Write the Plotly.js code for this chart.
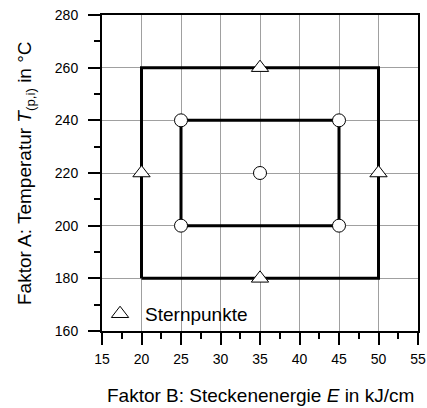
<!DOCTYPE html>
<html><head><meta charset="utf-8">
<script src="https://cdn.plot.ly/plotly-3.0.1.min.js"></script>
<style>html,body{margin:0;padding:0;background:#fff}</style>
</head><body>
<div id="chart" style="width:427px;height:408px"></div>
<script>
// Data
const outerX = [20, 50, 50, 20, 20];
const outerY = [180, 180, 260, 260, 180];
const innerX = [25, 45, 45, 25, 25];
const innerY = [200, 200, 240, 240, 200];
const circleX = [25, 45, 25, 45, 35];
const circleY = [200, 200, 240, 240, 220];
const starX = [35, 35, 20, 50];
const starY = [260, 180, 220, 220];
const xTicks = [15, 20, 25, 30, 35, 40, 45, 50, 55];
const yTicks = [160, 180, 200, 220, 240, 260, 280];
const legendLabel = "Sternpunkte";
const xTitle = "Faktor B: Steckenenergie <i>E</i> in kJ/cm";
const yTitle = "Faktor A: Temperatur <i>T</i><sub>(p,i)</sub> in °C";

const FONT = "Liberation Sans, Arial, sans-serif";

const traces = [
  {x: outerX, y: outerY, mode: "lines", line: {color: "#000", width: 3}, showlegend: false, hoverinfo: "skip"},
  {x: innerX, y: innerY, mode: "lines", line: {color: "#000", width: 3}, showlegend: false, hoverinfo: "skip"},
  {x: circleX, y: circleY, mode: "markers", showlegend: false,
   marker: {symbol: "circle", size: 13, color: "#fff", line: {color: "#000", width: 1}}},
  {x: starX, y: starY, mode: "markers", name: legendLabel, showlegend: true,
   marker: {symbol: "triangle-up", size: 15, color: "#fff", line: {color: "#000", width: 1}}}
];

const layout = {
  width: 427, height: 408,
  margin: {l: 102, r: 9, t: 15, b: 77},
  paper_bgcolor: "#fff", plot_bgcolor: "#fff",
  font: {family: FONT, size: 14, color: "#000"},
  showlegend: true,
  legend: {x: -0.022, y: -0.006, xanchor: "left", yanchor: "bottom", bgcolor: "rgba(0,0,0,0)",
           font: {family: FONT, size: 19, color: "#000"}, itemwidth: 40},
  xaxis: {
    range: [15, 55], tickvals: xTicks, ticktext: xTicks.map(String),
    ticks: "outside", ticklen: 12, tickwidth: 2, tickcolor: "#000",
    showline: true, linewidth: 2, linecolor: "#000", mirror: true,
    showgrid: true, gridcolor: "#a0a0a0", gridwidth: 1, zeroline: false,
    ticklabelstandoff: 2,
    tickfont: {family: FONT, size: 14, color: "#000"},
    minor: {dtick: 2.5, tick0: 15, ticks: "outside", ticklen: 6, tickwidth: 2, tickcolor: "#000", showgrid: false}
  },
  yaxis: {
    range: [160, 280], tickvals: yTicks, ticktext: yTicks.map(String),
    ticks: "outside", ticklen: 12, tickwidth: 2, tickcolor: "#000",
    showline: true, linewidth: 2, linecolor: "#000", mirror: true,
    showgrid: true, gridcolor: "#a0a0a0", gridwidth: 1, zeroline: false,
    ticklabelstandoff: 7,
    tickfont: {family: FONT, size: 14, color: "#000"},
    minor: {dtick: 10, tick0: 160, ticks: "outside", ticklen: 6, tickwidth: 2, tickcolor: "#000", showgrid: false}
  },
  annotations: [
    {text: xTitle, xref: "paper", yref: "paper", x: 0.5, y: -(395 - 331) / 316,
     xanchor: "center", yanchor: "middle", showarrow: false, font: {family: FONT, size: 19, color: "#000"}},
    {text: yTitle, xref: "paper", yref: "paper", x: -(102 - 26) / 316, y: 0.5,
     xanchor: "center", yanchor: "middle", textangle: -90, showarrow: false, font: {family: FONT, size: 19, color: "#000"}}
  ]
};

Plotly.newPlot("chart", traces, layout, {displayModeBar: false, staticPlot: true});
</script>
</body></html>
